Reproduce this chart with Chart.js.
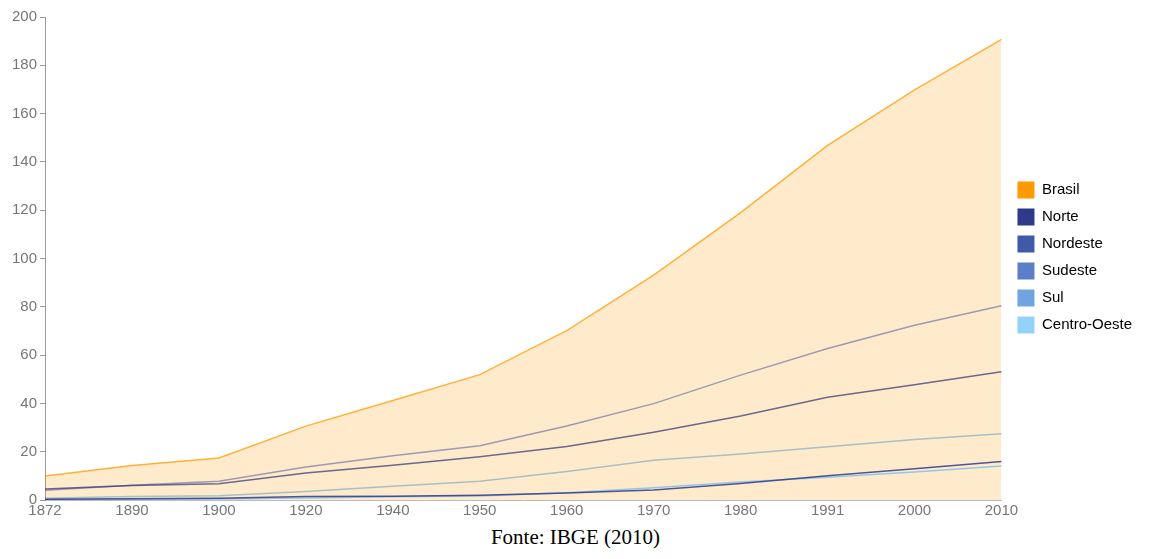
<!DOCTYPE html>
<html lang="pt-BR">
<head>
<meta charset="utf-8">
<title>População por região - Brasil</title>
<script src="https://cdn.jsdelivr.net/npm/chart.js@4.4.1/dist/chart.umd.min.js"></script>
<style>
  html, body { margin: 0; padding: 0; background: #fff; }
  #wrap { position: relative; width: 1151px; height: 559px; }
  #grafico { position: absolute; left: 0; top: 0; }
  #fonte {
    position: absolute; left: 0; top: 525px; width: 1151px;
    text-align: center; font-family: "Liberation Serif", "Times New Roman", serif;
    font-size: 21px; color: #000;
  }
</style>
</head>
<body>
<div id="wrap">
  <canvas id="grafico" width="1151" height="522"></canvas>
  <div id="fonte">Fonte: IBGE (2010)</div>
</div>
<script>
// Anos dos censos
const anos = ["1872", "1890", "1900", "1920", "1940", "1950", "1960", "1970", "1980", "1991", "2000", "2010"];

// População (milhões)
const brasil      = [9.9, 14.3, 17.4, 30.6, 41.2, 51.9, 70.1, 93.1, 119.0, 146.8, 169.8, 190.7];
const norte       = [0.3, 0.5, 0.7, 1.4, 1.6, 2.0, 2.9, 4.1, 6.8, 10.0, 12.9, 15.9];
const nordeste    = [4.6, 6.0, 6.7, 11.2, 14.4, 17.9, 22.2, 28.1, 34.8, 42.5, 47.7, 53.1];
const sudeste     = [4.0, 6.1, 7.8, 13.7, 18.3, 22.5, 30.6, 39.9, 51.7, 62.7, 72.4, 80.4];
const sul         = [0.7, 1.4, 1.8, 3.5, 5.7, 7.8, 11.8, 16.5, 19.0, 22.1, 25.1, 27.4];
const centroOeste = [0.2, 0.3, 0.4, 0.8, 1.3, 1.7, 3.0, 5.1, 7.5, 9.4, 11.6, 14.1];

const ticksY = [0, 20, 40, 60, 80, 100, 120, 140, 160, 180, 200];

// cores
const corLegenda = ["#ff9900", "#2f3a8a", "#3f5aa8", "#5a7fc6", "#70a4df", "#93d3fa"];
const corLinha = [
  "rgba(255,153,0,0.75)",
  "rgba(47,58,138,0.85)",
  "rgba(55,60,120,0.75)",
  "rgba(90,100,160,0.6)",
  "rgba(80,150,190,0.5)",
  "rgba(120,190,235,0.8)"
];

function serie(label, dados, i, extra) {
  return Object.assign({
    label: label,
    data: dados,
    borderColor: corLinha[i],
    backgroundColor: corLegenda[i],
    borderWidth: 1.5,
    pointRadius: 0,
    tension: 0,
    fill: false,
    order: 0
  }, extra || {});
}

const cinza = "#777";
const fonte = { family: "'Liberation Sans', Arial, sans-serif", size: 15 };

// desloca a legenda um pouco (posição do original)
const ajusteLegenda = {
  id: "ajusteLegenda",
  afterLayout(chart) {
    const lg = chart.legend;
    lg.left += 6; lg.right += 6;
    lg.top -= 12; lg.bottom -= 12;
  }
};

new Chart(document.getElementById("grafico"), {
  type: "line",
  data: {
    labels: anos,
    datasets: [
      serie("Brasil", brasil, 0, { fill: "origin", backgroundColor: "rgba(255,153,0,0.2)", order: 10 }),
      serie("Norte", norte, 1),
      serie("Nordeste", nordeste, 2),
      serie("Sudeste", sudeste, 3),
      serie("Sul", sul, 4),
      serie("Centro-Oeste", centroOeste, 5)
    ]
  },
  plugins: [ajusteLegenda],
  options: {
    responsive: false,
    animation: false,
    layout: { padding: { top: 17, left: 9, right: 15, bottom: 0 } },
    plugins: {
      tooltip: { enabled: false },
      legend: {
        position: "right",
        labels: {
          boxWidth: 17,
          boxHeight: 17,
          padding: 10,
          color: "#888",
          font: fonte,
          generateLabels: chart => chart.data.datasets.map((ds, i) => ({
            text: ds.label,
            fillStyle: corLegenda[i],
            strokeStyle: corLegenda[i],
            lineWidth: 0,
            datasetIndex: i
          }))
        }
      }
    },
    scales: {
      x: {
        offset: false,
        grid: { display: false, drawTicks: false },
        border: { display: true, color: "#bbb" },
        ticks: { color: cinza, font: fonte, maxRotation: 0, autoSkip: false, padding: 2 }
      },
      y: {
        min: 0,
        max: 200,
        afterBuildTicks: axis => { axis.ticks = ticksY.map(v => ({ value: v })); },
        grid: { drawOnChartArea: false, drawTicks: true, tickLength: 5, color: "#999" },
        border: { display: true, color: "#999" },
        ticks: { color: cinza, font: fonte, padding: 3 }
      }
    }
  }
});
</script>
</body>
</html>
